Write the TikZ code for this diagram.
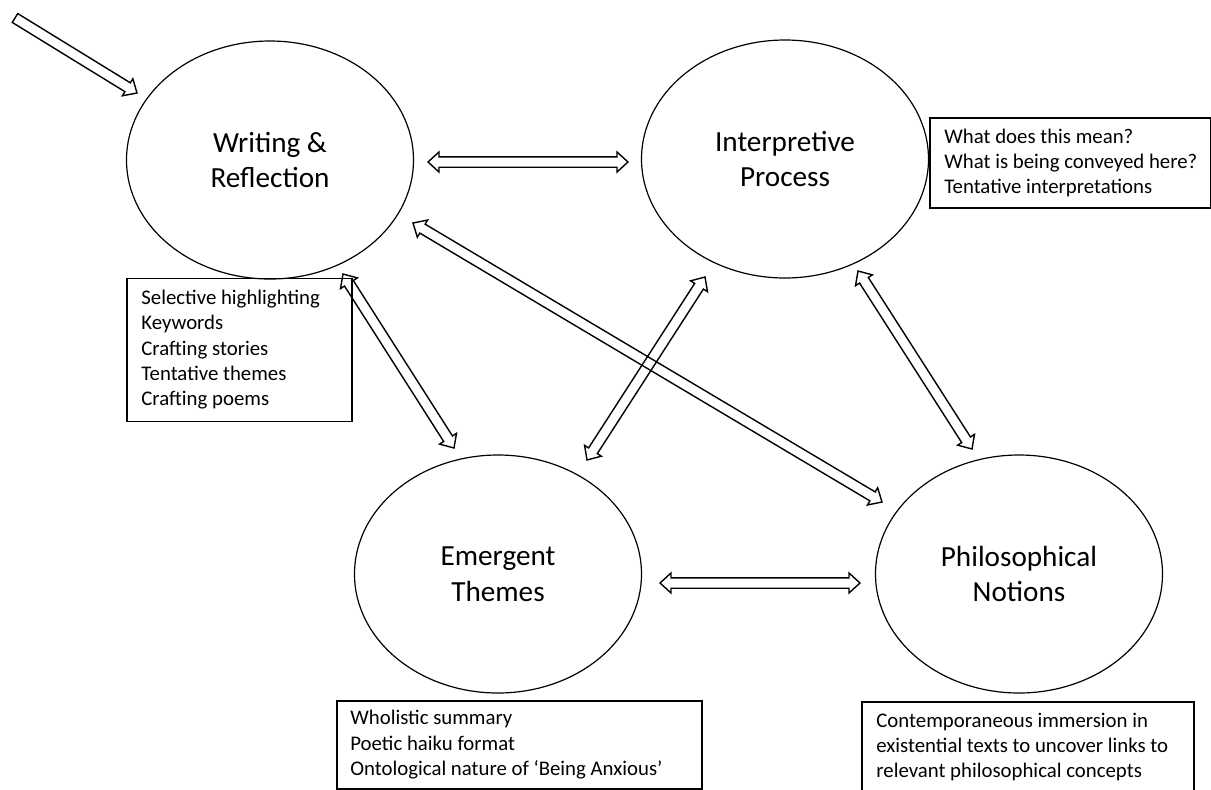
\documentclass[tikz,border=0pt]{standalone}
\usepackage{fontspec}
\setmainfont{Carlito}
\usetikzlibrary{shapes.geometric,calc,positioning}

\newcommand{\arwshaft}{2.6pt}
\newcommand{\arwhead}{5pt}
\newcommand{\arwlen}{5.5pt}

\newcommand{\bothways}[2]{%
  \coordinate (hA) at ($(#1)!\arwlen!(#2)$);
  \coordinate (hB) at ($(#2)!\arwlen!(#1)$);
  \draw[blockarrow] (#1) -- ($(hA)!\arwhead!90:(#2)$) -- ($(hA)!\arwshaft!90:(#2)$)
    -- ($(hB)!\arwshaft!-90:(#1)$) -- ($(hB)!\arwhead!-90:(#1)$) -- (#2)
    -- ($(hB)!\arwhead!90:(#1)$) -- ($(hB)!\arwshaft!90:(#1)$)
    -- ($(hA)!\arwshaft!-90:(#2)$) -- ($(hA)!\arwhead!-90:(#2)$) -- cycle;}

\newcommand{\oneway}[2]{%
  \coordinate (hB) at ($(#2)!\arwlen!(#1)$);
  \draw[blockarrow] ($(#1)!\arwshaft!90:(#2)$) -- ($(hB)!\arwshaft!-90:(#1)$)
    -- ($(hB)!\arwhead!-90:(#1)$) -- (#2) -- ($(hB)!\arwhead!90:(#1)$)
    -- ($(hB)!\arwshaft!90:(#1)$) -- ($(#1)!\arwshaft!-90:(#2)$) -- cycle;}

\tikzset{
  stage/.style={draw, line width=0.6pt, ellipse, minimum width=143.5pt, minimum height=119pt,
    inner sep=0pt, align=center, font=\fontsize{14.6}{17.8}\selectfont},
  notebox/.style={draw, line width=0.75pt, anchor=north west, inner sep=0pt},
  notetext/.style={inner sep=0pt, align=left, font=\fontsize{10.4}{12.6}\selectfont},
  blockarrow/.style={draw, line width=0.7pt, line join=miter}
}

\begin{document}
\begin{tikzpicture}[x=0.5pt, y=-0.5pt]
\useasboundingbox (0,0) rectangle (1211,789);

\node[stage] (wr) at (270,160) {Writing \&\\Reflection};
\node[stage] (ip) at (785,159) {Interpretive\\Process};
\node[stage] (et) at (498,574) {Emergent\\Themes};
\node[stage] (pn) at (1019,574) {Philosophical\\Notions};

\node[notebox, minimum width=112.5pt, minimum height=71.5pt] (wrbox) at (126,277.5) {};
\node[notetext, right=7.5pt of wrbox.west] (wrtext) {Selective highlighting\\Keywords\\Crafting stories\\Tentative themes\\Crafting poems};
\node[notebox, minimum width=140.5pt, minimum height=45pt] (ipbox) at (929,117) {};
\node[notetext, right=7.5pt of ipbox.west] (iptext) {What does this mean?\\What is being conveyed here?\\Tentative interpretations};
\node[notebox, minimum width=182.5pt, minimum height=44pt] (etbox) at (336,700) {};
\node[notetext, right=7pt of etbox.west] (ettext) {Wholistic summary\\Poetic haiku format\\Ontological nature of ‘Being Anxious’};
\node[notebox, minimum width=166pt, minimum height=45pt] (pnbox) at (861,701) {};
\node[notetext, right=7.5pt of pnbox.west] (pntext) {Contemporaneous immersion in\\existential texts to uncover links to\\relevant philosophical concepts};

\coordinate (entry) at (15,18);
\coordinate (wr-in) at (137,93);
\coordinate (wr-ip) at (428,162);
\coordinate (ip-wr) at (628,162);
\coordinate (wr-et) at (343,274);
\coordinate (et-wr) at (454,448);
\coordinate (wr-pn) at (413,223);
\coordinate (pn-wr) at (882,502);
\coordinate (ip-et) at (705,277);
\coordinate (et-ip) at (587,460);
\coordinate (ip-pn) at (858,271);
\coordinate (pn-ip) at (972,449);
\coordinate (et-pn) at (660,583);
\coordinate (pn-et) at (860,583);

\oneway{entry}{wr-in}
\bothways{wr-ip}{ip-wr}
\bothways{wr-et}{et-wr}
\bothways{wr-pn}{pn-wr}
\bothways{ip-et}{et-ip}
\bothways{ip-pn}{pn-ip}
\bothways{et-pn}{pn-et}
\end{tikzpicture}
\end{document}
